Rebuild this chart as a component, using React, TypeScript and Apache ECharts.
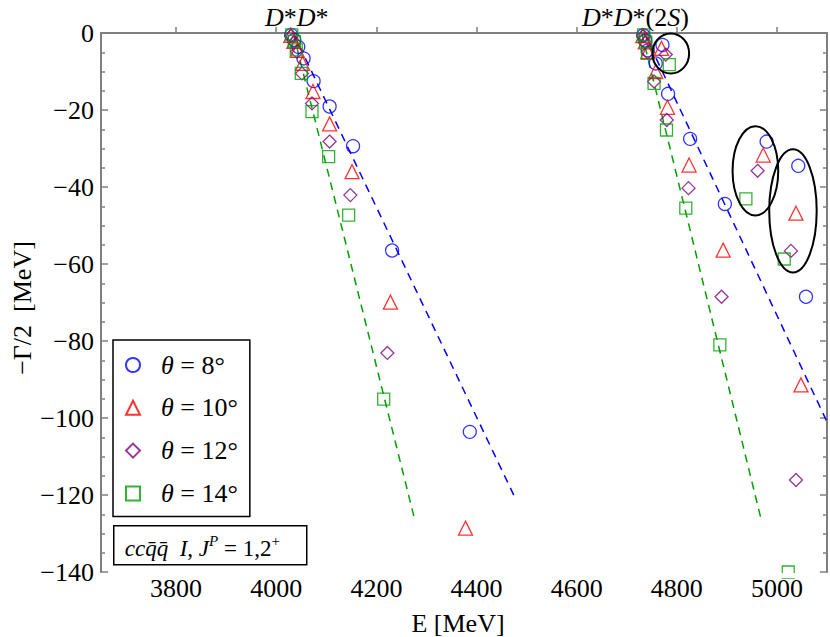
import React, { useEffect, useRef } from "react";
import * as echarts from "echarts";

const FONT = "'Liberation Serif', 'Times New Roman', serif";

// x ticks / labels
const xTicks = [3800, 4000, 4200, 4400, 4600, 4800, 5000];

// theta = 8 deg (blue circles)
const t8E = [4030, 4036, 4044, 4054.6, 4074.6, 4106.6, 4153.4, 4231.4, 4386.6,
  4733, 4737, 4742, 4758, 4782.6, 4826.6, 4896, 5058, 4771.4, 4979.4, 5042.6];
const t8G = [-0.5, -1.8, -3.6, -6.6, -12.5, -19.1, -29.4, -56.5, -103.6,
  -0.6, -2.0, -4.5, -7.9, -15.8, -27.5, -44.4, -68.5, -3.1, -28.2, -34.5];

// theta = 10 deg (red triangles)
const t10E = [4029, 4035, 4042, 4052.6, 4073.4, 4106.6, 4151.4, 4228, 4378,
  4732, 4737, 4742, 4758, 4781.4, 4824.6, 4892.6, 5048, 4769.4, 4972.6, 5038];
const t10G = [-0.6, -2.2, -4.5, -7.9, -15.2, -23.6, -36.0, -69.9, -128.6,
  -0.7, -2.3, -4.8, -10.0, -19.3, -34.3, -56.4, -91.4, -4.0, -31.7, -46.8];

// theta = 12 deg (purple diamonds)
const t12E = [4030, 4036, 4041.4, 4051.4, 4071.4, 4106.6, 4148, 4222,
  4733, 4737, 4742, 4754.6, 4780, 4823.4, 4889.4, 5038, 4778, 4961.4, 5028];
const t12G = [-0.7, -2.4, -4.9, -10.5, -18.3, -28.2, -42.1, -83.1,
  -0.8, -2.5, -5.0, -12.6, -22.6, -40.3, -68.5, -116.1, -5.6, -35.8, -56.6];

// theta = 14 deg (green squares)
const t14E = [4031, 4036, 4040, 4050, 4071.4, 4104.6, 4144.6, 4214.6,
  4734, 4738, 4741.4, 4754.6, 4779.4, 4818, 4886, 5022.6, 4785, 4938, 5014.6];
const t14G = [-0.5, -2.2, -4.4, -10.5, -20.4, -32.1, -47.3, -95.1,
  -0.5, -2.3, -5.3, -13.1, -25.2, -45.5, -81.0, -140, -8.2, -43.1, -58.7];

// dashed continuum lines
const blueLine1E = [4034, 4478];
const blueLine1G = [0, -121];
const greenLine1E = [4034, 4275];
const greenLine1G = [0, -125.6];
const blueLine2E = [4735, 5100];
const blueLine2G = [0, -101];
const greenLine2E = [4730, 4968];
const greenLine2G = [0, -126.1];

// ellipses marking resonances: center E, center G, radius E, radius G
const ellE = [4788, 4957, 5032];
const ellG = [-5.3, -35.8, -46.2];
const ellRE = [36.6, 45.6, 47.4];
const ellRG = [5.2, 11.6, 16.0];

const names = ["θ = 8°", "θ = 10°", "θ = 12°", "θ = 14°"];
const colors = ["#0000ff", "#ff0000", "#800080", "#00a000"];

const zip = (a: number[], b: number[]) => a.map((v, i) => [v, b[i]]);

export default function App() {
  const ref = useRef<HTMLDivElement>(null);
  useEffect(() => {
    if (!ref.current) return;
    const chart = echarts.init(ref.current, undefined, { renderer: "svg" });
    const axisLine = { show: true, lineStyle: { color: "#7f7f7f", width: 2 } };
    const tickStyle = { color: "#7f7f7f", width: 1.5 };
    const scatter = (i: number, symbol: string, size: number, E: number[], G: number[]) => ({
      type: "scatter",
      name: names[i],
      symbol,
      symbolSize: size,
      data: zip(E, G),
      z: 5,
      itemStyle: { color: "rgba(255,255,255,0)", borderColor: colors[i], borderWidth: 1.3 },
    });
    const dashed = (E: number[], G: number[], color: string) => ({
      type: "line",
      data: zip(E, G),
      showSymbol: false,
      symbol: "none",
      silent: true,
      z: 3,
      lineStyle: { color, width: 1.5, type: [8, 6] },
    });
    chart.setOption({
      animation: false,
      backgroundColor: "#fff",
      grid: { left: 101, right: 3, top: 33, bottom: 65, containLabel: false },
      xAxis: [
        {
          type: "value", min: 3650, max: 5100, position: "bottom",
          axisLine,
          axisTick: { show: true, inside: true, length: 6, lineStyle: tickStyle, customValues: xTicks },
          axisLabel: {
            customValues: xTicks, fontFamily: FONT, fontSize: 26, color: "#000", margin: 3,
            formatter: (v: number) => String(v),
          },
          splitLine: { show: false },
        },
        {
          type: "value", min: 3650, max: 5100, position: "top",
          axisLine, axisTick: { show: false }, axisLabel: { show: false }, splitLine: { show: false },
        },
      ],
      yAxis: [
        {
          type: "value", min: -140, max: 0, interval: 20, position: "left",
          axisLine,
          axisTick: { show: true, inside: true, length: 7, lineStyle: tickStyle },
          minorTick: { show: true, splitNumber: 4, length: 4, lineStyle: tickStyle },
          axisLabel: {
            fontFamily: FONT, fontSize: 26, color: "#000", margin: 7,
            formatter: (v: number) => (v === 0 ? "0" : "\u2212" + Math.abs(v)),
          },
          splitLine: { show: false },
        },
        {
          type: "value", min: -140, max: 0, interval: 20, position: "right",
          axisLine,
          axisTick: { show: true, inside: true, length: 7, lineStyle: tickStyle },
          minorTick: { show: true, splitNumber: 4, length: 4, lineStyle: tickStyle },
          axisLabel: { show: false },
          splitLine: { show: false },
        },
      ],
      legend: {
        data: names,
        orient: "vertical",
        left: 113,
        top: 340,
        backgroundColor: "#fff",
        borderColor: "#000",
        borderWidth: 1.5,
        borderRadius: 0,
        padding: [12, 12, 10, 12],
        itemGap: 16.8,
        itemWidth: 14,
        itemHeight: 14,
        z: 10,
        formatter: (n: string) => "{i|θ}" + n.slice(1),
        textStyle: {
          fontFamily: FONT, fontSize: 26, color: "#000", lineHeight: 26,
          padding: [0, 0, 0, 16],
          rich: { i: { fontFamily: FONT, fontSize: 26, fontStyle: "italic", lineHeight: 26 } },
        },
      },
      series: [
        dashed(blueLine1E, blueLine1G, "#0000ff"),
        dashed(greenLine1E, greenLine1G, "#00a000"),
        dashed(blueLine2E, blueLine2G, "#0000ff"),
        dashed(greenLine2E, greenLine2G, "#00a000"),
        scatter(0, "circle", 13, t8E, t8G),
        scatter(1, "triangle", 14, t10E, t10G),
        scatter(2, "diamond", 13, t12E, t12G),
        scatter(3, "rect", 12, t14E, t14G),
        {
          type: "custom",
          silent: true,
          z: 6,
          data: ellE.map((e, i) => [e, ellG[i], ellRE[i], ellRG[i]]),
          encode: { x: 0, y: 1 },
          renderItem: (params: any, api: any) => {
            const c = api.coord([api.value(0), api.value(1)]);
            const s = api.size([api.value(2), api.value(3)]);
            return {
              type: "ellipse",
              shape: { cx: c[0], cy: c[1], rx: s[0], ry: s[1] },
              style: { fill: "none", stroke: "#000", lineWidth: 2 },
            };
          },
        },
      ],
      graphic: [
        // mask below the bottom frame line (points drawn past the axis are cut off)
        { type: "rect", z: 50, silent: true, shape: { x: 102, y: 573, width: 724, height: 5 }, style: { fill: "#fff" } },
        {
          type: "text", left: 265, top: 4, z: 60,
          style: {
            text: "{i|D}*{i|D}*", fontFamily: FONT, fontSize: 26, fill: "#000",
            rich: { i: { fontFamily: FONT, fontSize: 26, fontStyle: "italic" } },
          },
        },
        {
          type: "text", left: 582, top: 4, z: 60,
          style: {
            text: "{i|D}*{i|D}*(2{i|S})", fontFamily: FONT, fontSize: 26, fill: "#000",
            rich: { i: { fontFamily: FONT, fontSize: 26, fontStyle: "italic" } },
          },
        },
        {
          type: "text", x: 458, y: 623, z: 60,
          style: { text: "E [MeV]", fontFamily: FONT, fontSize: 26, fill: "#000", align: "center", verticalAlign: "middle" },
        },
        {
          type: "text", x: 22, y: 308, rotation: Math.PI / 2, z: 60,
          style: { text: "\u2212\u0393/2  [MeV]", fontFamily: FONT, fontSize: 26, fill: "#000", align: "center", verticalAlign: "middle" },
        },
        {
          type: "group", left: 113, top: 525, z: 60,
          children: [
            { type: "rect", shape: { x: 0, y: 0, width: 193, height: 39 }, style: { fill: "#fff", stroke: "#000", lineWidth: 1.5 } },
            {
              type: "text", x: 11, y: 21,
              style: {
                text: "{i|cc\u0071\u0304\u0071\u0304}{n|  }{i|I}{n|, }{i|J}{s|P}{n| = 1,2}{sn|+}",
                verticalAlign: "middle",
                fill: "#000",
                rich: {
                  i: { fontFamily: FONT, fontSize: 23, fontStyle: "italic", lineHeight: 26, verticalAlign: "bottom" },
                  n: { fontFamily: FONT, fontSize: 23, lineHeight: 26, verticalAlign: "bottom" },
                  s: { fontFamily: FONT, fontSize: 15, fontStyle: "italic", lineHeight: 16, verticalAlign: "top" },
                  sn: { fontFamily: FONT, fontSize: 15, lineHeight: 16, verticalAlign: "top" },
                },
              },
            },
          ],
        },
      ],
    });
    return () => chart.dispose();
  }, []);
  return <div ref={ref} style={{ position: "fixed", left: 0, top: 0, width: 830, height: 637 }} />;
}
